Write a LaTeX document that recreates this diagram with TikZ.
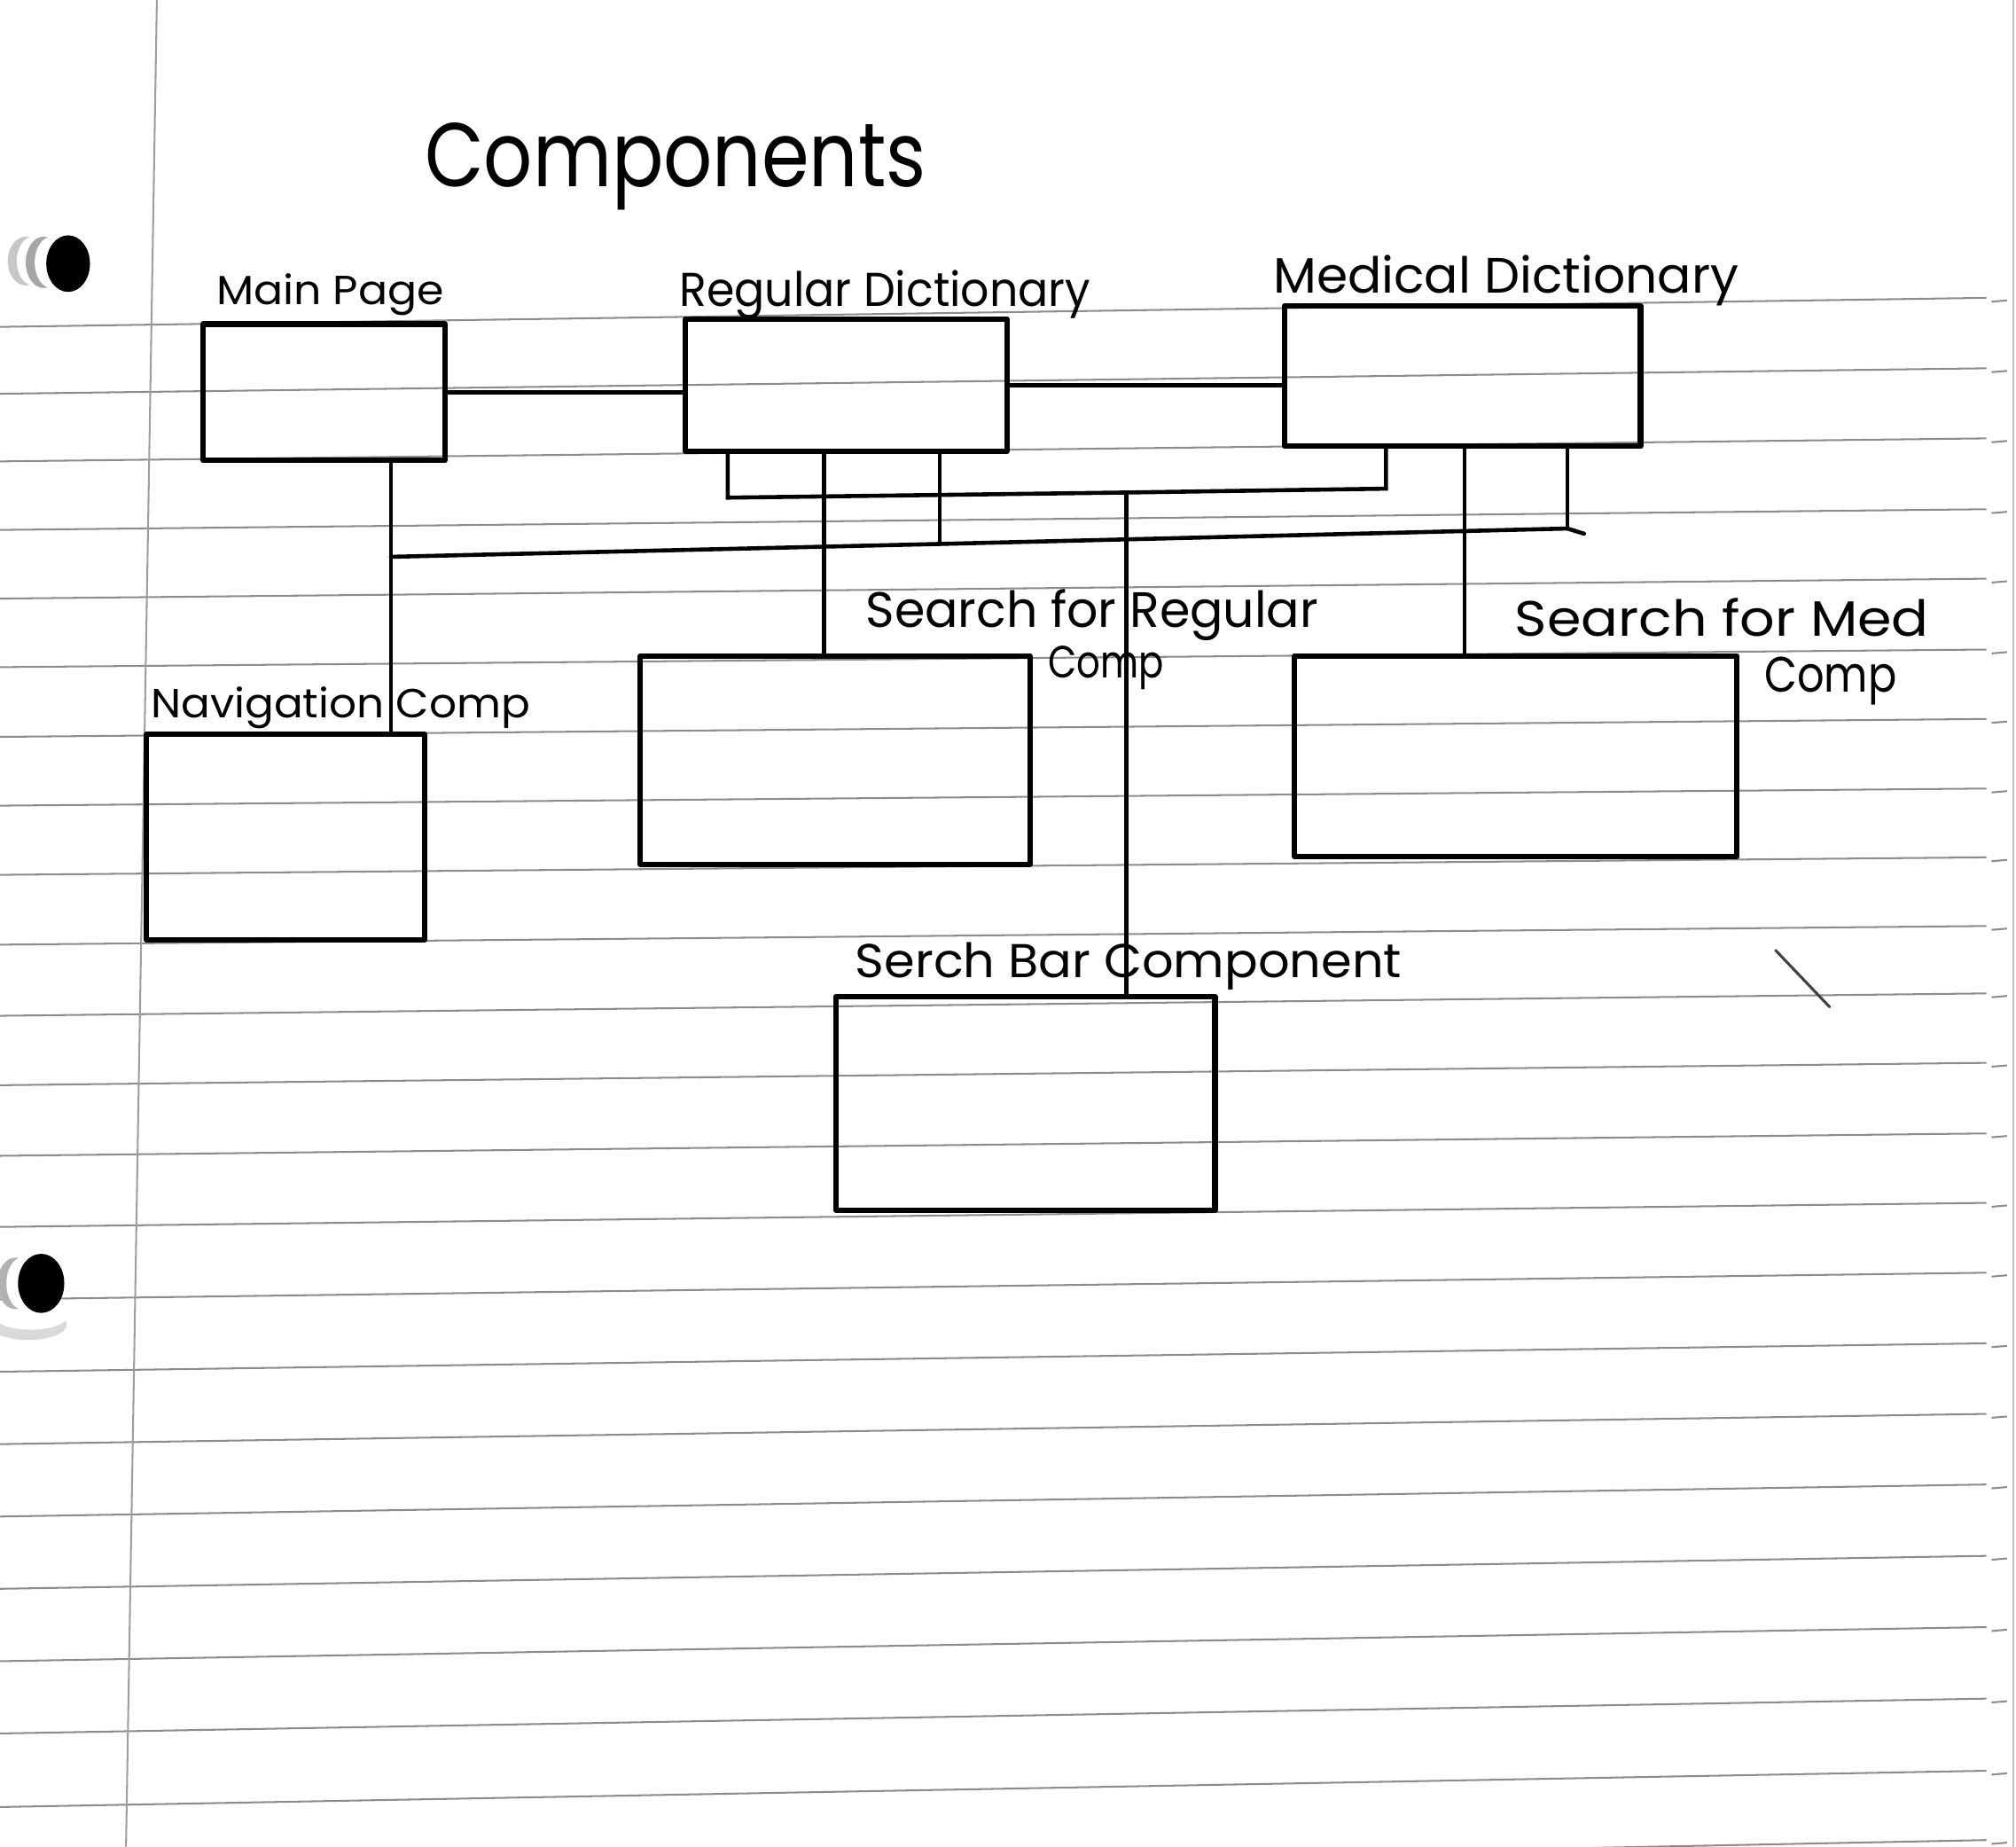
\documentclass[tikz,border=0pt]{standalone}
\usepackage{fontspec}
\setmainfont{Poppins}
\usepackage{graphicx}
\usetikzlibrary{fit,calc}

\tikzset{
  ruled/.style={draw=black!45, line width=0.8pt},
  margin/.style={draw=black!38, line width=0.8pt},
  box/.style={draw=black, line width=2.4pt, inner sep=0pt, line join=round},
  wire/.style={draw=black, line width=1.8pt, line cap=round},
  lbl/.style={inner sep=0pt, anchor=base west, text=black},
}
% handwritten-looking label: font size #2, stretched to width #1
\newcommand{\hw}[3]{{\fontsize{#2}{#2}\selectfont\resizebox{#1}{\height}{#3}}}

\begin{document}
\begin{tikzpicture}[x=0.02cm, y=-0.02cm]
  \useasboundingbox (0,0) rectangle (1568,1436);
  \clip (0,0) rectangle (1568,1436);
  \fill[white] (0,0) rectangle (1568,1436);

  % ruled notebook lines with the small marks at the right edge
  \foreach \a/\b in {254.2/231.6, 306.2/286.4, 358.8/340.9, 412.1/396.0,
                     465.5/450.0, 518.8/505.1, 573.0/559.1, 626.5/613.2,
                     680.3/666.7, 734.6/720.1, 789.9/772.5, 843.9/826.5,
                     898.8/881.4, 954.1/935.4, 1010.4/989.7, 1066.7/1044.6,
                     1123.0/1099.5, 1179.3/1154.4, 1235.5/1209.9, 1291.8/1265.3,
                     1348.0/1320.9, 1405.2/1377.0, 1461.5/1430.9} {
    \draw[ruled] (0,\a) -- (1545,\b);
    \draw[ruled] (1549,{\b+3}) -- (1561,{\b+2});
  }
  % margin rule and page edge
  \draw[margin] (122,0) -- (98,1436);
  \draw[black!25, line width=0.6pt] (1566,0) -- (1566,1436);

  % punched holes
  \fill[black!22] (20,203) ellipse (14 and 19);
  \fill[white] (26,203) ellipse (13 and 19);
  \fill[black!35] (34,204) ellipse (14 and 20);
  \fill[white] (40,204) ellipse (13 and 20);
  \fill[black] (53,205) ellipse (17 and 22);
  \fill[black!15] (22,1030) ellipse (30 and 12);
  \fill[white] (24,1024) ellipse (28 and 10);
  \fill[black!30] (12,998) ellipse (14 and 20);
  \fill[white] (17,998) ellipse (12 and 20);
  \fill[black] (32,998) ellipse (18 and 23);

  % stray pen stroke
  \draw[black!75, line width=1.2pt, line cap=round] (1381,739) -- (1423,783);

  % title
  \node[lbl] (ttl) at (330,145) {\hw{7.8cm}{40pt}{Components}};

  % component boxes
  \node[box, fit={(158,252)(346,358)}] (main) {};
  \node[box, fit={(533,248)(783,351)}] (reg) {};
  \node[box, fit={(999,238)(1276,347)}] (med) {};
  \node[box, fit={(498,510)(801,672)}] (sreg) {};
  \node[box, fit={(1007,510)(1351,666)}] (smed) {};
  \node[box, fit={(114,571)(330,731)}] (nav) {};
  \node[box, fit={(650,775)(945,941)}] (bar) {};

  % labels
  \node[lbl] (lmain) at (168,237) {\hw{3.54cm}{18pt}{Main Page}};
  \node[lbl] (lreg) at (528,238) {\hw{6.4cm}{21pt}{Regular Dictionary}};
  \node[lbl] (lmed) at (990,228) {\hw{7.24cm}{22pt}{Medical Dictionary}};
  \node[lbl] (lsreg) at (673,488) {\hw{7.04cm}{22pt}{Search for Regular}};
  \node[lbl] (lsreg2) at (815,527) {\hw{1.8cm}{20pt}{Comp}};
  \node[lbl] (lsmed) at (1178,495) {\hw{6.44cm}{22pt}{Search for Med}};
  \node[lbl] (lsmed2) at (1372,538) {\hw{2.06cm}{22pt}{Comp}};
  \node[lbl] (lnav) at (117,558) {\hw{5.9cm}{18pt}{Navigation Comp}};
  \node[lbl] (lbar) at (665,760) {\hw{8.5cm}{21pt}{Serch Bar Component}};

  % junction points of the buses
  \coordinate (jA1) at (304,433);
  \coordinate (jA2) at (731,423);
  \coordinate (jA3) at (1219,411);
  \coordinate (jA4) at (1232,415);
  \coordinate (jB1) at (566,387);
  \coordinate (jB2) at (876,383);
  \coordinate (jB3) at (1078,380);
  \coordinate (xR) at (641,0);
  \coordinate (xM) at (1139,0);

  % connectors
  \draw[wire] (main.east) -- (main.east -| reg.west);
  \draw[wire] (reg.east) -- (reg.east -| med.west);
  \draw[wire] (main.south -| jA1) -- (nav.north -| jA1);
  \draw[wire] (jA1) -- (jA2) -- (jA3) -- (jA4);
  \draw[wire] (reg.south -| jA2) -- (jA2);
  \draw[wire] (med.south -| jA3) -- (jA3);
  \draw[wire] (reg.south -| jB1) -- (jB1) -- (jB2) -- (jB3) -- (med.south -| jB3);
  \draw[wire] (jB2) -- (bar.north -| jB2);
  \draw[wire] (reg.south -| xR) -- (sreg.north -| xR);
  \draw[wire] (med.south -| xM) -- (smed.north -| xM);
\end{tikzpicture}
\end{document}
